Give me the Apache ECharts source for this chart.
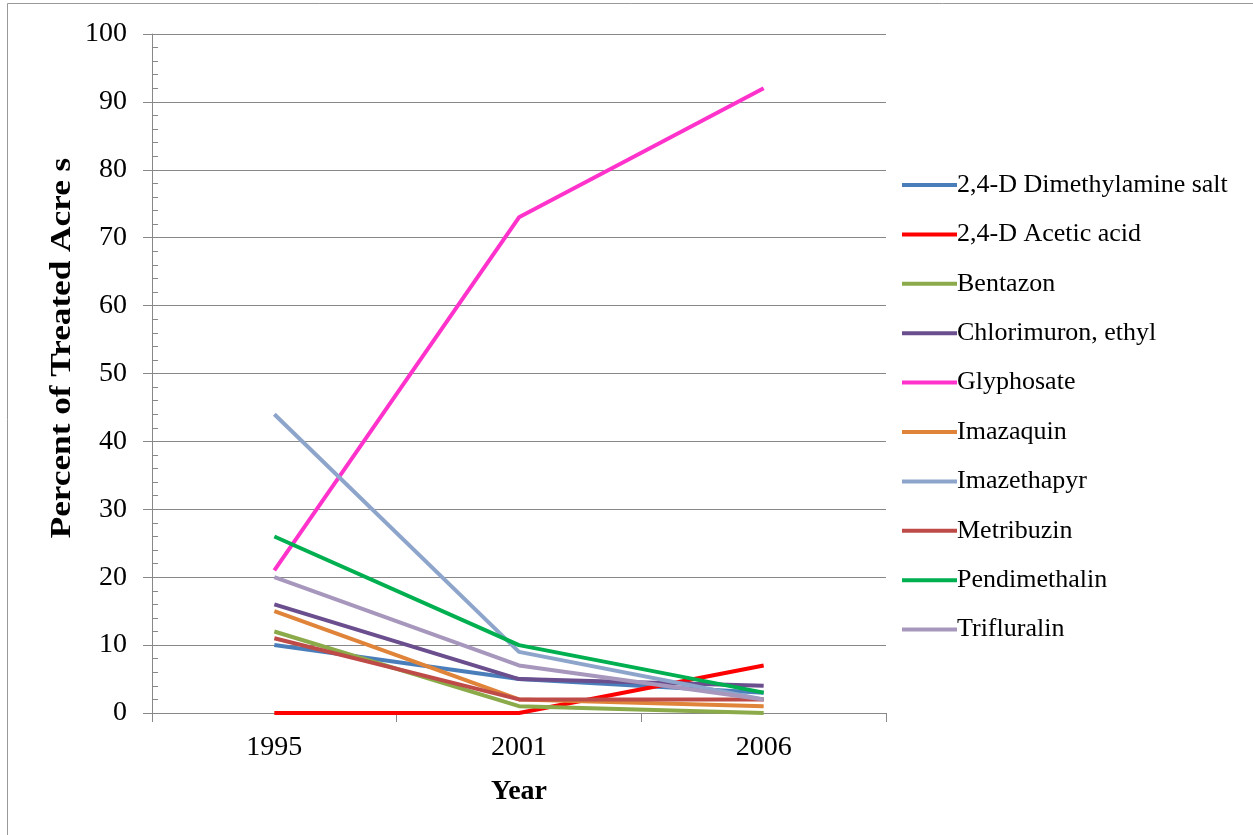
<!DOCTYPE html>
<html>
<head>
<meta charset="utf-8">
<script src="https://cdn.jsdelivr.net/npm/echarts@6/dist/echarts.min.js"></script>
<style>html,body{margin:0;padding:0;background:#fff;}#main{width:1253px;height:835px;}</style>
</head>
<body>
<div id="main"></div>
<script>
const years = ['1995', '2001', '2006'];
const seriesNames = ['2,4-D Dimethylamine salt', '2,4-D Acetic acid', 'Bentazon', 'Chlorimuron, ethyl', 'Glyphosate', 'Imazaquin', 'Imazethapyr', 'Metribuzin', 'Pendimethalin', 'Trifluralin'];
const dimethylamine = [10, 5, 3];
const aceticAcid = [0, 0, 7];
const bentazon = [12, 1, 0];
const chlorimuron = [16, 5, 4];
const glyphosate = [21, 73, 92];
const imazaquin = [15, 2, 1];
const imazethapyr = [44, 9, 2];
const metribuzin = [11, 2, 2];
const pendimethalin = [26, 10, 3];
const trifluralin = [20, 7, 2];
const yTitle = 'Percent of Treated Acre s';
const xTitle = 'Year';
const colors = ['#4A7EBB', '#FF0000', '#8BAA4A', '#6B4E8E', '#FF33CC', '#E0843A', '#8EA5CB', '#BE4B48', '#00B050', '#A797BD'];
const values = [dimethylamine, aceticAcid, bentazon, chlorimuron, glyphosate, imazaquin, imazethapyr, metribuzin, pendimethalin, trifluralin];
const font = '"Liberation Serif", "Times New Roman", serif';
const chart = echarts.init(document.getElementById('main'), null, {renderer: 'canvas'});
chart.setOption({
  backgroundColor: '#fff',
  animation: false,
  color: colors,
  graphic: [
    {type: 'rect', shape: {x: 7.5, y: 3.5, width: 1300, height: 900}, style: {fill: 'none', stroke: '#999', lineWidth: 1}, silent: true},
    {type: 'text', x: 62, y: 348, rotation: Math.PI / 2, scaleX: 1.1, scaleY: 0.95,
     style: {text: yTitle, fontFamily: font, fontSize: 32, fontWeight: 'bold', fill: '#000', align: 'center', verticalAlign: 'middle'}, silent: true}
  ],
  grid: {left: 152, right: 367, top: 34, bottom: 122, containLabel: false},
  legend: {
    orient: 'vertical', left: 897, top: 167,
    itemWidth: 55, itemHeight: 4, itemGap: 23.4,
    icon: 'rect',
    data: seriesNames,
    textStyle: {fontFamily: font, fontSize: 26, lineHeight: 26, color: '#000', padding: [0, 0, 0, -5]}
  },
  xAxis: {
    type: 'category', data: years, boundaryGap: true,
    axisLine: {lineStyle: {color: '#888', width: 1}},
    axisTick: {show: true, length: 9, lineStyle: {color: '#888'}},
    axisLabel: {fontFamily: font, fontSize: 28, color: '#000', margin: 21},
    name: xTitle, nameLocation: 'middle', nameGap: 65,
    nameTextStyle: {fontFamily: font, fontSize: 28, fontWeight: 'bold', color: '#000'}
  },
  yAxis: [{
    type: 'value', min: 0, max: 100, interval: 10,
    axisLine: {show: true, lineStyle: {color: '#888'}},
    axisTick: {show: true, length: 9, lineStyle: {color: '#888'}},
    splitLine: {show: true, lineStyle: {color: '#888', width: 1}},
    axisLabel: {fontFamily: font, fontSize: 28, color: '#000', margin: 25}
  }, {
    type: 'value', min: 0, max: 100, interval: 10, position: 'left',
    axisLine: {show: false},
    axisTick: {show: false, inside: true},
    minorTick: {show: true, splitNumber: 5, length: 6, lineStyle: {color: '#888'}},
    splitLine: {show: false},
    axisLabel: {show: false}
  }],
  series: seriesNames.map((n, i) => ({
    name: n, type: 'line', data: values[i], yAxisIndex: 0,
    symbol: 'none', lineStyle: {width: 4, color: colors[i]}, itemStyle: {color: colors[i]},
    z: 2
  }))
});
</script>
</body>
</html>
